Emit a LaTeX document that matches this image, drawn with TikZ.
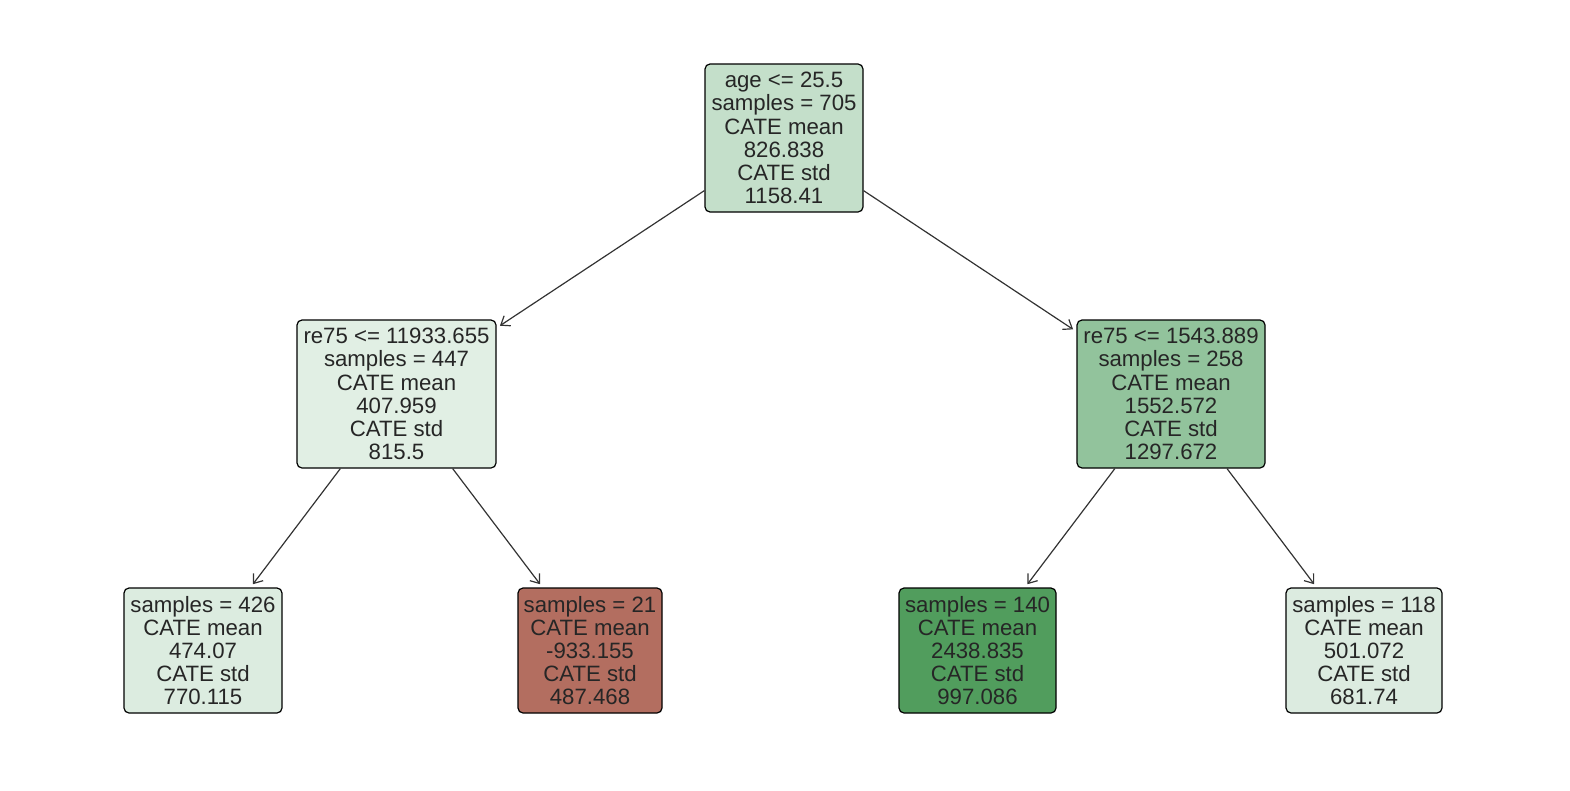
\documentclass[tikz,border=0pt]{standalone}
\usepackage{fontspec}
\setmainfont{Liberation Sans}
\usetikzlibrary{arrows.meta}
\definecolor{txt}{HTML}{262626}
\definecolor{edge}{HTML}{333333}
\definecolor{cRoot}{HTML}{C4DFCA}
\definecolor{cLeft}{HTML}{E1EFE4}
\definecolor{cRight}{HTML}{92C39C}
\definecolor{cLa}{HTML}{DCECE0}
\definecolor{cLb}{HTML}{B36E60}
\definecolor{cLc}{HTML}{519D5D}
\definecolor{cLd}{HTML}{DCEBE0}
\tikzset{
  treenode/.style={draw=black, line width=1.2pt, rounded corners=5pt, align=center,
    inner sep=0pt, text=txt, font=\fontsize{22.2}{23.2}\selectfont},
  inner/.style={treenode, minimum height=148pt},
  leaf/.style={treenode, minimum height=125pt},
  link/.style={draw=edge, line width=1.2pt, -{Straight Barb[length=8pt,width=12pt,line width=1.2pt]}, shorten >=4pt}
}
\begin{document}
\begin{tikzpicture}[x=1pt,y=-1pt]
\useasboundingbox (0,0) rectangle (1570,790);
\node[inner, fill=cRoot, minimum width=158pt] (root) at (784,138)
  {age <= 25.5\\samples = 705\\CATE mean\\826.838\\CATE std\\1158.41};
\node[inner, fill=cLeft, minimum width=199pt] (left) at (396.5,394)
  {re75 <= 11933.655\\samples = 447\\CATE mean\\407.959\\CATE std\\815.5};
\node[inner, fill=cRight, minimum width=188pt] (right) at (1171,394)
  {re75 <= 1543.889\\samples = 258\\CATE mean\\1552.572\\CATE std\\1297.672};
\node[leaf, fill=cLa, minimum width=158pt] (la) at (203,650.5)
  {samples = 426\\CATE mean\\474.07\\CATE std\\770.115};
\node[leaf, fill=cLb, minimum width=144pt] (lb) at (590,650.5)
  {samples = 21\\CATE mean\\-933.155\\CATE std\\487.468};
\node[leaf, fill=cLc, minimum width=157pt] (lc) at (977.5,650.5)
  {samples = 140\\CATE mean\\2438.835\\CATE std\\997.086};
\node[leaf, fill=cLd, minimum width=156pt] (ld) at (1364,650.5)
  {samples = 118\\CATE mean\\501.072\\CATE std\\681.74};
\draw[link] (root) -- (left);
\draw[link] (root) -- (right);
\draw[link] (left) -- (la);
\draw[link] (left) -- (lb);
\draw[link] (right) -- (lc);
\draw[link] (right) -- (ld);
\end{tikzpicture}
\end{document}
